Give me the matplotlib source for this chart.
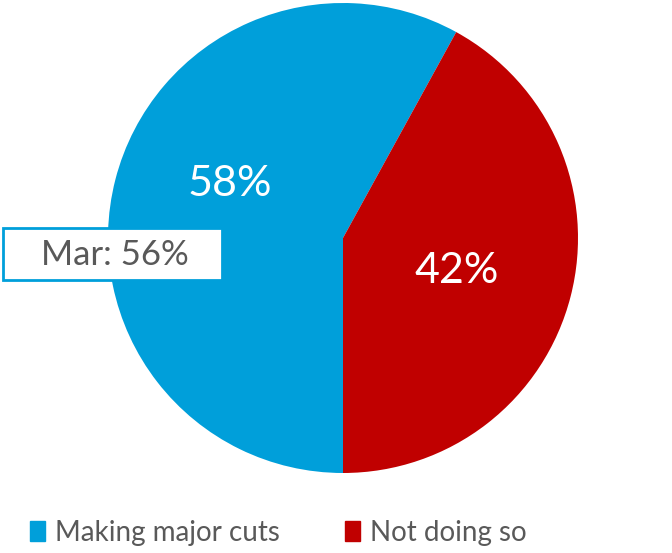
import matplotlib
matplotlib.use("Agg")
import matplotlib.pyplot as plt
from matplotlib.patches import Patch, Rectangle

categories = ["Making major cuts", "Not doing so"]
values = [58, 42]
colors = ["#009FDA", "#C00000"]
prior_label = "Mar: 56%"

plt.rcParams['font.family'] = ['Lato', 'DejaVu Sans']

fig = plt.figure(figsize=(6.72, 5.53), dpi=100)
W, H = 672, 553
cx, cy, r = 343, 238, 235
ax = fig.add_axes([(cx - r) / W, (H - cy - r) / H, 2 * r / W, 2 * r / H])
wedges, texts, autotexts = ax.pie(values, colors=colors, startangle=270, counterclock=False,
                                  autopct=lambda p: f"{p:.0f}%", pctdistance=0.5,
                                  textprops=dict(color="white", fontsize=31),
                                  wedgeprops=dict(linewidth=0))
ax.set_xlim(-1, 1)
ax.set_ylim(-1, 1)
ax.set_aspect('equal')
autotexts[0].set_position((-0.48, 0.23))
autotexts[1].set_position((0.485, -0.14))

# prior-value box
fig.patches.append(Rectangle((3 / W, 1 - 280 / H), 219 / W, 52 / H, transform=fig.transFigure,
                             fc="white", ec=colors[0], lw=2, zorder=5))
fig.text(115 / W, 1 - 255 / H, prior_label, ha='center', va='center', fontsize=25,
         color="#595959", zorder=6)

handles = [Patch(color=c, label=l) for c, l in zip(colors, categories)]
leg = fig.legend(handles=handles, loc='center left', bbox_to_anchor=(30 / W, 1 - 533 / H), ncol=2,
                 frameon=False, fontsize=20, handlelength=0.54, handleheight=0.72,
                 handletextpad=0.35, columnspacing=2.35, borderpad=0, borderaxespad=0,
                 labelcolor="#595959")

fig.savefig("out.png", dpi=100)
